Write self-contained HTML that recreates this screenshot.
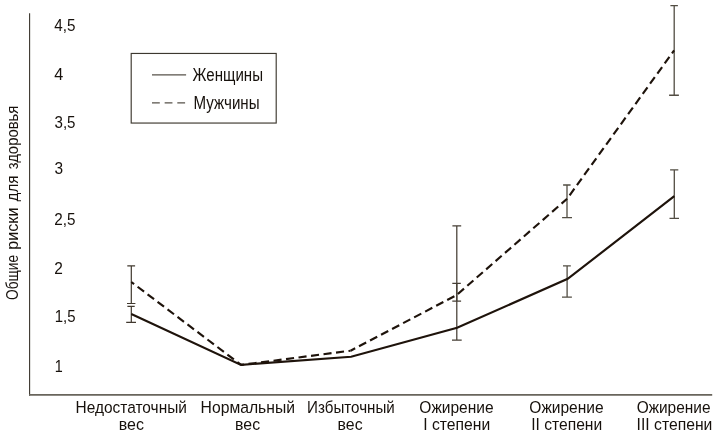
<!DOCTYPE html>
<html><head><meta charset="utf-8"><title>Общие риски для здоровья</title>
<style>
html,body{margin:0;padding:0;background:#fff;}
svg{display:block;}
text{font-family:"Liberation Sans",sans-serif;font-size:17.1px;fill:#17110c;}
</style></head>
<body>
<svg width="718" height="435" viewBox="0 0 718 435">
<rect width="718" height="435" fill="#fff"/>
<!-- axes -->
<path d="M29.6 13.2V395.7" fill="none" stroke="#3a352d" stroke-width="1.1"/>
<path d="M29.05 394.9H712.2" fill="none" stroke="#69655c" stroke-width="1.7"/>
<!-- y tick labels -->
<g style="font-size:18px">
<text x="54.3" y="30.5" textLength="21.2" lengthAdjust="spacingAndGlyphs">4,5</text>
<text x="54.3" y="79.7" textLength="9" lengthAdjust="spacingAndGlyphs">4</text>
<text x="54.5" y="127.8" textLength="21" lengthAdjust="spacingAndGlyphs">3,5</text>
<text x="54.5" y="173.8" textLength="8.6" lengthAdjust="spacingAndGlyphs">3</text>
<text x="54.3" y="224.6" textLength="21.2" lengthAdjust="spacingAndGlyphs">2,5</text>
<text x="54.3" y="273.8" textLength="8.6" lengthAdjust="spacingAndGlyphs">2</text>
<text x="54.8" y="321.5" textLength="20.8" lengthAdjust="spacingAndGlyphs">1,5</text>
<text x="54.8" y="371.8" textLength="8" lengthAdjust="spacingAndGlyphs">1</text>
</g>
<!-- y label -->
<g style="font-size:17.1px;fill:#332d27">
<text transform="translate(17.5 299.9) rotate(-90)" textLength="45" lengthAdjust="spacingAndGlyphs">Общие</text>
<text transform="translate(17.5 249.8) rotate(-90)" textLength="42.3" lengthAdjust="spacingAndGlyphs">риски</text>
<text transform="translate(17.5 201.4) rotate(-90)" textLength="26" lengthAdjust="spacingAndGlyphs">для</text>
<text transform="translate(17.5 169.3) rotate(-90)" textLength="63.7" lengthAdjust="spacingAndGlyphs">здоровья</text>
</g>
<!-- legend -->
<rect x="131.2" y="53.45" width="145" height="69.6" fill="#fff" stroke="#3d382f" stroke-width="1.15"/>
<path d="M152 74.9H186.1" stroke="#57524a" stroke-width="1.3"/>
<path d="M152 102.9H186.1" stroke="#57524a" stroke-width="1.4" stroke-dasharray="7.8 4.85"/>
<text x="192.6" y="80.6" style="font-size:18px" textLength="70.4" lengthAdjust="spacingAndGlyphs">Женщины</text>
<text x="193.6" y="108.8" style="font-size:18px" textLength="66" lengthAdjust="spacingAndGlyphs">Мужчины</text>
<!-- error bars -->
<g fill="none">
<path d="M131.3 265.8V303.5M127.3 265.8H135.1M127 303.5H135.4" stroke="#40382e" stroke-width="1.2"/>
<path d="M131.3 306.3V322.4M127.4 306.3H134.7M126.2 322.4H136" stroke="#40382e" stroke-width="1.2"/>
<path d="M456.8 225.8V301.2M452.4 225.8H461.2M452.3 301.2H461.1" stroke="#453e34" stroke-width="1.25"/>
<path d="M456.8 283.4V340.2M452.3 283.4H460.8M452 340.2H461.7" stroke="#453e34" stroke-width="1.25"/>
<path d="M567.0 185V217.7M563.1 185H570.6M562.1 217.7H572" stroke="#524d43" stroke-width="1.3"/>
<path d="M567.1 265.8V297.1M563 265.8H570.8M562 297.1H571.9" stroke="#524d43" stroke-width="1.3"/>
<path d="M674.2 5.7V95.25M670.4 5.7H677.9M669.1 95.25H678.9" stroke="#524d43" stroke-width="1.3"/>
<path d="M674.3 169.85V218.3M670.1 169.85H678.3M669.5 218.3H679" stroke="#524d43" stroke-width="1.3"/>
</g>
<!-- data lines -->
<path d="M131.3 314.1L241.1 364.9L351.1 356.7L457.1 327.85L567.7 278.85L674.3 196.2" fill="none" stroke="#1e130b" stroke-width="2.15" stroke-linejoin="miter"/>
<g fill="none" stroke="#1e130b" stroke-width="2.15">
<path d="M131.3 282.0L241.1 364.9" stroke-dasharray="8.1 4.4" stroke-dashoffset="4.6"/>
<path d="M241.1 364.9L350.6 350.7" stroke-dasharray="8.1 4.5" stroke-dashoffset="5.1"/>
<path d="M350.6 350.7L456.6 295.1" stroke-dasharray="8.1 4.35" stroke-dashoffset="2.95"/>
<path d="M456.6 295.1L567.1 198.8" stroke-dasharray="8.1 4.4" stroke-dashoffset="10.8"/>
<path d="M567.1 198.8L674.1 50.4" stroke-dasharray="8.1 4.4" stroke-dashoffset="8.15"/>
</g>
<!-- x labels -->
<g>
<text x="75.6" y="412.8" textLength="111.3" lengthAdjust="spacingAndGlyphs">Недостаточный</text>
<text x="118.7" y="429.5" textLength="25.2" lengthAdjust="spacingAndGlyphs">вес</text>
<text x="200.6" y="412.8" textLength="94.4" lengthAdjust="spacingAndGlyphs">Нормальный</text>
<text x="235.1" y="429.5" textLength="25" lengthAdjust="spacingAndGlyphs">вес</text>
<text x="307.1" y="412.8" textLength="87.7" lengthAdjust="spacingAndGlyphs">Избыточный</text>
<text x="337.6" y="429.5" textLength="25" lengthAdjust="spacingAndGlyphs">вес</text>
<text x="419.3" y="412.8" textLength="74.4" lengthAdjust="spacingAndGlyphs">Ожирение</text>
<text x="423.3" y="429.5" textLength="66.9" lengthAdjust="spacingAndGlyphs">I степени</text>
<text x="529.3" y="412.8" textLength="74.4" lengthAdjust="spacingAndGlyphs">Ожирение</text>
<text x="531.2" y="429.5" textLength="71" lengthAdjust="spacingAndGlyphs">II степени</text>
<text x="636.7" y="412.8" textLength="73.8" lengthAdjust="spacingAndGlyphs">Ожирение</text>
<text x="636.6" y="429.5" textLength="75.8" lengthAdjust="spacingAndGlyphs">III степени</text>
</g>
</svg>
</body></html>
